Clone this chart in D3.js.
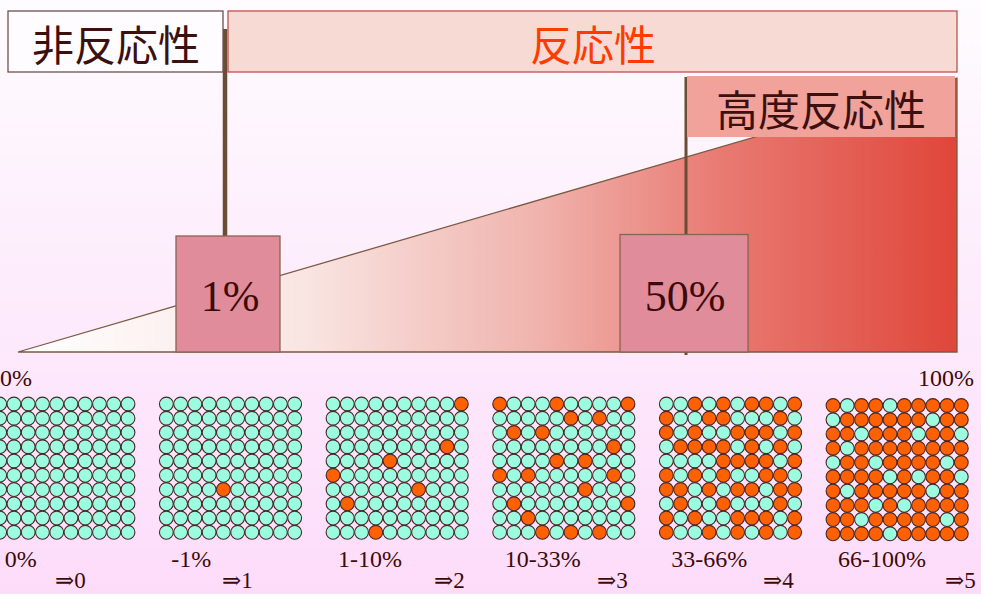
<!DOCTYPE html>
<html>
<head>
<meta charset="utf-8">
<script src="https://cdn.jsdelivr.net/npm/d3@7"></script>
<style>
html,body{margin:0;padding:0;background:#fde6fb;overflow:hidden;}
svg{display:block;}
</style>
</head>
<body>
<div id="chart"></div>
<script>
// ---------- data ----------
const reactivityLabels = ["非反応性", "反応性", "高度反応性"];
const thresholdValues = [1, 50];
const thresholdLabels = ["1%", "50%"];
const axisEndValues = [0, 100];
const axisEndLabels = ["0%", "100%"];
const rangeLabels = ["0%", "-1%", "1-10%", "10-33%", "33-66%", "66-100%"];
const scoreLabels = ["⇒0", "⇒1", "⇒2", "⇒3", "⇒4", "⇒5"];
// 1 = positive (orange) cell, 0 = negative (cyan) cell, row by row
const grid0 = ["0000000000","0000000000","0000000000","0000000000","0000000000","0000000000","0000000000","0000000000","0000000000","0000000000"];
const grid1 = ["0000000000","0000000000","0000000000","0000000000","0000000000","0000000000","0000100000","0000000000","0000000000","0000000000"];
const grid2 = ["0000000001","0000000000","0000000000","0000000010","0000100000","1000000000","0000001000","0100000000","0000000000","0001000000"];
const grid3 = ["1000100001","0000010100","0101000000","0000000010","0000101000","1010000010","0000001000","0100000001","0010000000","0001010100"];
const grid4 = ["0010101101","1001100010","1010011101","0111101010","0000111101","1010100110","1101011011","0100100010","1010011101","1001010101"];
const grid5 = ["1011011111","0111111011","1101110110","1011111111","0110111101","1111010110","1011111011","1110101111","1101111101","1111011111"];
const grids = [grid0, grid1, grid2, grid3, grid4, grid5];

// ---------- layout ----------
const W = 981, H = 594;
const svg = d3.select("#chart").append("svg").attr("width", W).attr("height", H);
const defs = svg.append("defs");

const bg = defs.append("linearGradient").attr("id", "bg").attr("x1", 0).attr("y1", 0).attr("x2", 0).attr("y2", 1);
bg.append("stop").attr("offset", 0).attr("stop-color", "#fefcfe");
bg.append("stop").attr("offset", 0.55).attr("stop-color", "#fdeafc");
bg.append("stop").attr("offset", 1).attr("stop-color", "#fddcfa");
svg.append("rect").attr("width", W).attr("height", H).attr("fill", "url(#bg)");

// percentage scale along the wedge
const xPct = d3.scaleLinear().domain([0, 1, 50, 100]).range([18, 225, 686, 957]);
const yLevel = d3.scaleLinear().domain([0, 100]).range([352, 78]);

const wg = defs.append("linearGradient").attr("id", "wedge").attr("gradientUnits", "userSpaceOnUse")
  .attr("x1", xPct(0)).attr("y1", 0).attr("x2", xPct(100)).attr("y2", 0);
[[0, "#ffffff"], [0.3, "#f9e6e3"], [0.55, "#f0b4ae"], [0.75, "#e87a72"], [1, "#e0463a"]]
  .forEach(s => wg.append("stop").attr("offset", s[0]).attr("stop-color", s[1]));

const wedgePts = [[0, 0], [100, 0], [100, 100]];
svg.append("path")
  .attr("d", d3.line().x(d => xPct(d[0])).y(d => yLevel(d[1]))(wedgePts) + "Z")
  .attr("fill", "url(#wedge)").attr("stroke", "#7b5a44").attr("stroke-width", 1.3);

// sticks
const stickTop = [29, 77], stickBottom = [236, 355], stickW = [4.5, 3];
thresholdValues.forEach((v, i) => {
  svg.append("rect").attr("x", xPct(v) - stickW[i] / 2).attr("y", stickTop[i])
    .attr("width", stickW[i]).attr("height", stickBottom[i] - stickTop[i]).attr("fill", "#6b4c34");
});

// threshold boxes
const tBox = [{x0: 176, x1: 280, y0: 236}, {x0: 620, x1: 748, y0: 234.5}];
thresholdValues.forEach((v, i) => {
  const b = tBox[i];
  svg.append("rect").attr("x", b.x0).attr("y", b.y0).attr("width", b.x1 - b.x0).attr("height", yLevel(0) - b.y0)
    .attr("fill", "#e08c9a").attr("stroke", "#8b6450").attr("stroke-width", 1.3);
  svg.append("text").attr("x", (b.x0 + b.x1) / 2 + (i === 0 ? 2 : 1)).attr("y", 310.5)
    .attr("text-anchor", "middle").attr("font-family", "'Liberation Serif', 'DejaVu Serif', serif")
    .attr("font-size", 44).attr("fill", "#3d0a0a").text(thresholdLabels[i]);
});

// axis end labels
axisEndValues.forEach((v, i) => {
  svg.append("text").attr("x", i === 0 ? 0 : 918).attr("y", 386)
    .attr("font-family", "'Liberation Serif', 'DejaVu Serif', serif").attr("font-size", 24)
    .attr("fill", "#3d0a0a").text(axisEndLabels[i]);
});

// top category boxes
const topBoxes = [
  {x: 8, y: 11, w: 215, h: 61, fill: "#fffcff", stroke: "#6e5050", color: "#3d1010"},
  {x: 228, y: 11, w: 729, h: 61, fill: "#f8dad5", stroke: "#c0504d", color: "#ff3c00"},
  {x: 687, y: 76, w: 268, h: 61, fill: "#f1a29a", stroke: "none", color: "#3d1010"}
];
const topTextX = [116, 593, 821];
reactivityLabels.forEach((lab, i) => {
  const b = topBoxes[i];
  svg.append("rect").attr("x", b.x).attr("y", b.y).attr("width", b.w).attr("height", b.h)
    .attr("fill", b.fill).attr("stroke", b.stroke).attr("stroke-width", 1.3);
  svg.append("text").attr("x", topTextX[i]).attr("y", b.y + b.h / 2 + 1)
    .attr("text-anchor", "middle").attr("dominant-baseline", "central")
    .attr("font-family", "'Noto Sans CJK JP', sans-serif").attr("font-size", 42)
    .attr("fill", b.color).text(lab);
});

// grids
const gridX = d3.scaleLinear().domain([0, 5]).range([-0.3, 833]);
const cellX = d3.scaleLinear().domain([0, 9]).range([0, 128.3]);
const cellY = d3.scaleLinear().domain([0, 9]).range([404, 532.3]);
grids.forEach((g, gi) => {
  const cells = [];
  g.forEach((row, r) => row.split("").forEach((c, k) => cells.push({r, k, pos: c === "1"})));
  const yOff = gi === 5 ? 1.5 : 0;
  svg.append("g").selectAll("circle").data(cells).join("circle")
    .attr("cx", d => gridX(gi) + cellX(d.k))
    .attr("cy", d => cellY(d.r) + yOff)
    .attr("r", 6.9)
    .attr("fill", d => d.pos ? "#ff6000" : "#9cfce0")
    .attr("stroke", "#4a2626").attr("stroke-width", 1.1);
});

// bottom labels
const scoreLabelX = [55, 222, 434, 597, 763, 945];
rangeLabels.forEach((lab, i) => {
  svg.append("text").attr("x", gridX(i) + 5).attr("y", 567)
    .attr("font-family", "'Liberation Serif', 'DejaVu Serif', serif").attr("font-size", 24)
    .attr("fill", "#3d0a0a").text(lab);
});
scoreLabels.forEach((lab, i) => {
  svg.append("text").attr("x", scoreLabelX[i]).attr("y", 588)
    .attr("font-family", "'Liberation Serif', 'DejaVu Serif', serif").attr("font-size", 23)
    .attr("fill", "#3d0a0a").text(lab);
});
</script>
</body>
</html>
